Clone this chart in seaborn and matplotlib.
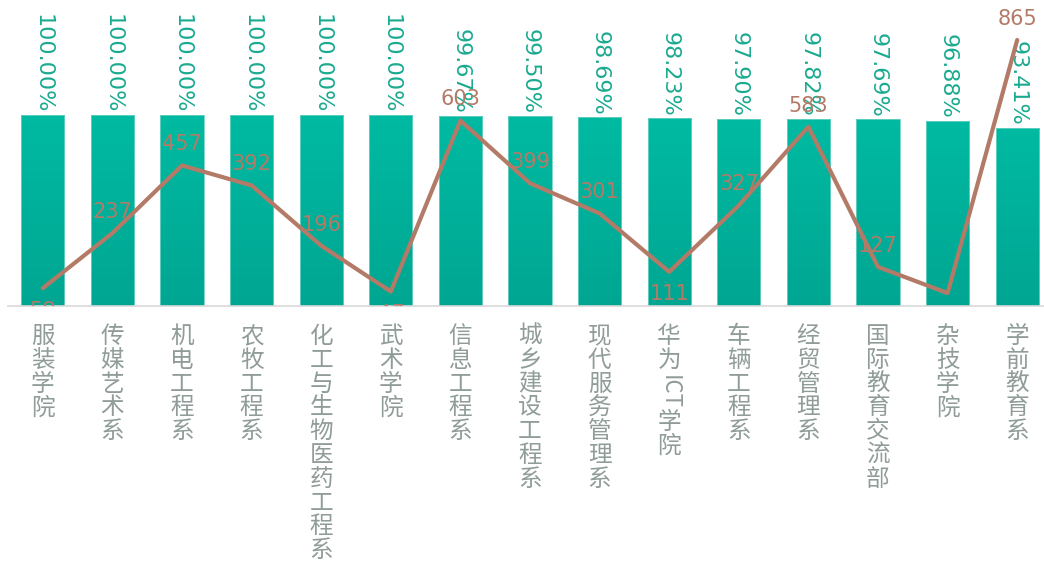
import re
import numpy as np
import pandas as pd
import matplotlib
matplotlib.use("Agg")
import matplotlib.pyplot as plt
from matplotlib.colors import LinearSegmentedColormap
from matplotlib.transforms import blended_transform_factory
import seaborn as sns

# data
departments = ["服装学院", "传媒艺术系", "机电工程系", "农牧工程系", "化工与生物医药工程系",
               "武术学院", "信息工程系", "城乡建设工程系", "现代服务管理系", "华为ICT学院",
               "车辆工程系", "经贸管理系", "国际教育交流部", "杂技学院", "学前教育系"]
rate = [100.00, 100.00, 100.00, 100.00, 100.00, 100.00, 99.67, 99.50, 98.69, 98.23,
        97.90, 97.82, 97.69, 96.88, 93.41]
count = [58, 237, 457, 392, 196, 47, 603, 399, 301, 111, 327, 583, 127, 42, 865]

df = pd.DataFrame({"dept": departments, "rate": rate, "count": count})

sns.set_style("white")
plt.rcParams["font.family"] = ["Noto Sans CJK SC", "DejaVu Sans"]

bar_top = "#00BAA2"
bar_bot = "#00A692"
bar_text = "#1AAA90"
line_col = "#B37B67"
tick_col = "#8F9C99"

W, H = 1044, 563
fig = plt.figure(figsize=(W / 100, H / 100), dpi=100)
ax = fig.add_axes([8 / W, (H - 306) / H, 1044 / W, 306 / H])

sns.barplot(data=df, x="dept", y="rate", color=bar_top, width=0.62,
            saturation=1, ax=ax, zorder=2)

# vertical gradient fill for bars
cmap = LinearSegmentedColormap.from_list("g", [bar_bot, bar_top])
grad = np.linspace(0, 1, 256).reshape(-1, 1)
for p in ax.patches:
    x0, y0 = p.get_x(), p.get_y()
    w, h = p.get_width(), p.get_height()
    p.set_facecolor("none")
    p.set_edgecolor("#6FD3C4")
    p.set_linewidth(0.6)
    im = ax.imshow(grad, extent=[x0, x0 + w, y0, y0 + h], origin="lower",
                   aspect="auto", cmap=cmap, zorder=1.5)
    im.set_clip_path(p)
ax.set_ylim(0, 160.2)
ax.set_xlim(-0.5, len(departments) - 0.5)

for i, v in enumerate(rate):
    ax.annotate(f"{v:.2f}%", (i, v), xytext=(0, 1.5), textcoords="offset points",
                rotation=270, ha="center", va="bottom", fontsize=16,
                color=bar_text, family="DejaVu Sans", zorder=3)

ax.set_xlabel("")
ax.set_ylabel("")
ax.set_yticks([])
ax.set_xticks(range(len(departments)))
ax.set_xticklabels([])
ax.tick_params(axis="x", which="major", length=0)
ax.set_xticks(np.arange(-0.5, len(departments)), minor=True)
ax.tick_params(axis="x", which="minor", length=9, width=1, color="#D9D9D9")
for s in ["top", "right", "left"]:
    ax.spines[s].set_visible(False)
ax.spines["bottom"].set_color("#D9D9D9")
ax.spines["bottom"].set_linewidth(1.2)

# vertical category labels (latin runs drawn sideways)
trans = blended_transform_factory(ax.transData, ax.transAxes)
renderer = fig.canvas.get_renderer()
step = 23.8
for i, name in enumerate(departments):
    off = 19
    for seg in re.findall(r"[A-Za-z]+|.", name):
        if seg.isascii():
            t = ax.annotate(seg, (i, 0), xycoords=trans, xytext=(0, -off - 2),
                            textcoords="offset pixels", rotation=270, ha="center",
                            va="top", fontsize=16, color=tick_col,
                            annotation_clip=False)
            off += t.get_window_extent(renderer).height + 4
        else:
            ax.annotate(seg, (i, 0), xycoords=trans, xytext=(0, -off),
                        textcoords="offset pixels", ha="center", va="top",
                        fontsize=17, color=tick_col, annotation_clip=False)
            off += step

# line on twin axis
ax2 = ax.twinx()
xs = np.arange(len(count))
sns.lineplot(x=xs, y=count, ax=ax2, color=line_col, linewidth=3)
ax2.set_ylim(0, 995)
ax2.set_xlim(-0.5, len(departments) - 0.5)
ax2.set_yticks([])
ax2.set_ylabel("")
for s in ax2.spines.values():
    s.set_visible(False)

for i, v in enumerate(count):
    left = count[i - 1] if i > 0 else np.inf
    right = count[i + 1] if i < len(count) - 1 else np.inf
    if v < left and v < right:
        ax2.annotate(str(v), (i, v), xytext=(0, -9), textcoords="offset points",
                     ha="center", va="top", fontsize=15, color=line_col,
                     family="DejaVu Sans", annotation_clip=False, clip_on=True)
    else:
        ax2.annotate(str(v), (i, v), xytext=(0, 8), textcoords="offset points",
                     ha="center", va="bottom", fontsize=15, color=line_col,
                     family="DejaVu Sans", clip_on=True)

fig.savefig("out.png", dpi=100)
